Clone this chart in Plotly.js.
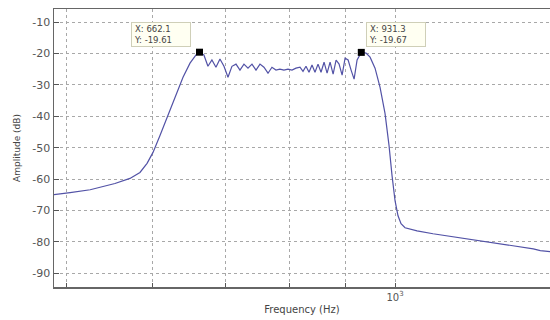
<!DOCTYPE html>
<html>
<head>
<meta charset="utf-8">
<script src="https://cdn.plot.ly/plotly-3.0.1.min.js"></script>
<style>html,body{margin:0;padding:0;background:#fff;}</style>
</head>
<body>
<div id="chart" style="width:550px;height:320px;"></div>
<script>
const freqHz = [483, 487.3, 504, 525.8, 554, 571.8, 584, 592.8, 600.3, 609.2, 618.3, 628.8, 639.5, 649, 657.3, 662.1, 668.3, 674.0, 679.7, 685.5, 691.3, 697.2, 703.1, 709.0, 715.1, 721.1, 727.2, 733.4, 739.6, 745.9, 752.2, 758.5, 765.0, 771.4, 778.0, 784.5, 791.2, 797.9, 804.7, 811.5, 818.4, 823.6, 828.8, 834.1, 839.4, 844.7, 850.1, 855.5, 861.0, 866.5, 872.0, 877.6, 883.1, 888.7, 894.4, 900.0, 905.8, 911.5, 917.3, 923.1, 931.3, 940.7, 948.7, 958.7, 968.9, 979.1, 987.4, 993.7, 1000, 1006.3, 1012.7, 1021.3, 1047.5, 1083.4, 1163.9, 1248.1, 1338.4, 1358.3, 1393.1];
const amplitudeDb = [-65.1, -64.95, -64.3, -63.4, -61.4, -59.8, -57.9, -55, -51.5, -46.1, -40.4, -33.6, -27.6, -23.1, -20.5, -19.61, -20.5, -24.1, -22.1, -24.4, -21.8, -24.1, -27.6, -24.1, -23.4, -25.3, -23.4, -24.7, -23.4, -25.3, -23.4, -24.4, -26.3, -24.4, -25.3, -25.0, -25.3, -25.0, -25.3, -24.7, -24.4, -25.7, -24.1, -26.0, -23.7, -26.0, -23.4, -26.0, -22.8, -26.3, -22.8, -26.6, -22.1, -23.4, -26.9, -21.5, -22.1, -25.3, -28.2, -22.1, -19.67, -19.9, -21.2, -24.7, -30.8, -39.1, -49.3, -58.9, -66.9, -71.7, -74.2, -75.5, -76.5, -77.4, -79.0, -80.6, -82.2, -82.8, -83.2];

const tipX = [662.1, 931.3];
const tipY = [-19.61, -19.67];

const xTickVals = [500, 600, 700, 800, 900, 1000];
const xTickText = ['', '', '', '', '', '10<sup>3</sup>'];
const yTickVals = [-90, -80, -70, -60, -50, -40, -30, -20, -10];
const yTickText = ['-90', '-80', '-70', '-60', '-50', '-40', '-30', '-20', '-10'];

const xTitle = 'Frequency (Hz)';
const yTitle = 'Amplitude (dB)';

const FONT = 'DejaVu Sans, Arial, sans-serif';

const traces = [
  {
    x: freqHz, y: amplitudeDb, type: 'scatter', mode: 'lines',
    line: {color: '#5252a6', width: 1.2},
    hoverinfo: 'skip'
  },
  {
    x: tipX, y: tipY, type: 'scatter', mode: 'markers',
    marker: {symbol: 'square', size: 7, color: '#000'},
    hoverinfo: 'skip'
  }
];

const annotations = tipX.map((fx, i) => ({
  x: Math.log10(fx), y: tipY[i], xref: 'x', yref: 'y',
  text: 'X: ' + fx.toFixed(1) + '<br>Y: ' + tipY[i].toFixed(2),
  showarrow: false,
  xanchor: i === 0 ? 'right' : 'left',
  yanchor: 'bottom',
  xshift: i === 0 ? -8 : 5,
  yshift: 5,
  align: 'left',
  width: 54, height: 19,
  borderpad: 2, borderwidth: 1,
  bgcolor: '#fffff2', bordercolor: '#cfcfb8',
  font: {family: FONT, size: 8.5, color: '#444'}
}));

const layout = {
  width: 550, height: 320,
  margin: {l: 54, r: 0, t: 9, b: 33},
  paper_bgcolor: '#fff', plot_bgcolor: '#fff',
  showlegend: false,
  font: {family: FONT, size: 10, color: '#555'},
  xaxis: {
    type: 'log',
    range: [2.6877, 3.1419],
    tickvals: xTickVals, ticktext: xTickText,
    ticks: 'inside', ticklen: 4, tickcolor: '#555',
    showgrid: true, gridcolor: '#a8a8a8', griddash: 'dot', gridwidth: 1,
    showline: true, linecolor: '#666', linewidth: 1.5, mirror: true,
    zeroline: false,
    tickfont: {family: FONT, size: 10, color: '#555'},
    title: {text: xTitle, standoff: 4, font: {family: FONT, size: 10, color: '#444'}}
  },
  yaxis: {
    range: [-94.36, -5.86],
    tickvals: yTickVals, ticktext: yTickText,
    ticks: 'inside', ticklen: 5, tickcolor: '#555',
    showgrid: true, gridcolor: '#a8a8a8', griddash: 'dot', gridwidth: 1,
    showline: true, linecolor: '#666', linewidth: 1.5, mirror: false,
    zeroline: false,
    tickfont: {family: FONT, size: 11, color: '#555'},
    title: {text: yTitle, standoff: 10, font: {family: FONT, size: 9, color: '#444'}}
  },
  annotations: annotations
};

Plotly.newPlot('chart', traces, layout, {staticPlot: true, displayModeBar: false});
</script>
</body>
</html>
